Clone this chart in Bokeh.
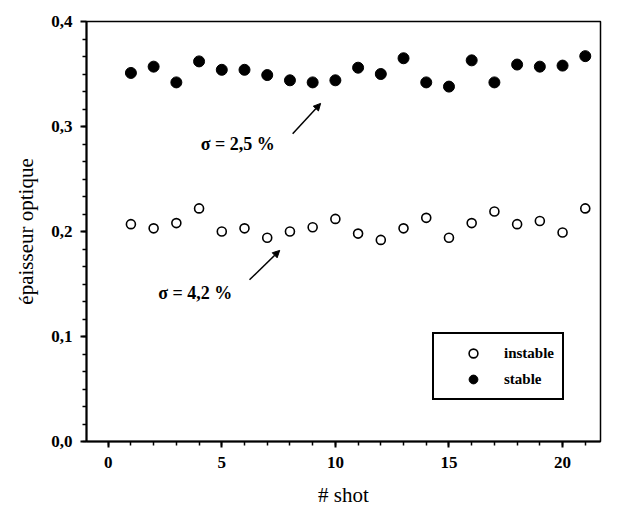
from bokeh.plotting import figure
from bokeh.models import (ColumnDataSource, Range1d, FixedTicker, Legend, LegendItem,
                          Label, Arrow, NormalHead)
from bokeh.embed import file_html
from bokeh.resources import INLINE

shots = list(range(1, 22))
stable = [0.351, 0.357, 0.342, 0.362, 0.354, 0.354, 0.349, 0.344, 0.342, 0.344,
          0.356, 0.350, 0.365, 0.342, 0.338, 0.363, 0.342, 0.359, 0.357, 0.358, 0.367]
instable = [0.207, 0.203, 0.208, 0.222, 0.200, 0.203, 0.194, 0.200, 0.204, 0.212,
            0.198, 0.192, 0.203, 0.213, 0.194, 0.208, 0.219, 0.207, 0.210, 0.199, 0.222]
y_ticks = [0.0, 0.1, 0.2, 0.3, 0.4]
y_tick_labels = ["0,0", "0,1", "0,2", "0,3", "0,4"]
x_ticks = [0, 5, 10, 15, 20]
series_names = ["instable", "stable"]
annotations = ["σ = 2,5 %", "σ = 4,2 %"]

FONT = "Liberation Serif"

p = figure(width=622, height=516, output_backend="svg", toolbar_location=None,
           x_range=Range1d(-0.955, 21.67), y_range=Range1d(0.0, 0.4),
           min_border_left=86, min_border_right=22, min_border_top=21, min_border_bottom=75)
p.grid.visible = False
p.outline_line_color = "black"
p.outline_line_width = 1.5
p.outline_line_alpha = 1
p.background_fill_color = "white"
p.border_fill_color = "white"

src = ColumnDataSource(dict(x=shots, stable=stable, instable=instable))
r_inst = p.scatter("x", "instable", source=src, size=9, marker="circle",
                   fill_color="white", line_color="black", line_width=1.6)
r_stab = p.scatter("x", "stable", source=src, size=11, marker="circle",
                   fill_color="black", line_color="black")

for ax in (p.xaxis[0], p.yaxis[0]):
    ax.axis_line_width = 2
    ax.axis_line_color = "black"
    ax.major_tick_line_width = 2
    ax.major_tick_line_color = "black"
    ax.minor_tick_line_width = 1.5
    ax.minor_tick_line_color = "black"
    ax.major_tick_out = 6
    ax.major_tick_in = 0
    ax.minor_tick_out = 4
    ax.minor_tick_in = 0
    ax.major_label_text_font = FONT
    ax.major_label_text_font_size = "17px"
    ax.major_label_text_font_style = "bold"
    ax.major_label_text_color = "black"
    ax.axis_label_text_font = FONT
    ax.axis_label_text_font_size = "21px"
    ax.axis_label_text_font_style = "normal"
    ax.axis_label_text_color = "black"

p.xaxis.ticker = FixedTicker(ticks=x_ticks, minor_ticks=list(range(0, 22)))
p.yaxis.ticker = FixedTicker(ticks=y_ticks,
                             minor_ticks=[i * 0.1 / 6 for i in range(0, 25)])
p.yaxis.major_label_overrides = {t: l for t, l in zip(y_ticks, y_tick_labels)}
p.xaxis.axis_label = "# shot"
p.yaxis.axis_label = "épaisseur optique"
p.xaxis.major_label_standoff = 9
p.yaxis.major_label_standoff = 8
p.xaxis.axis_label_standoff = 12
p.yaxis.axis_label_standoff = 10

p.add_layout(Label(x=4.07, y=0.283, text=annotations[0], text_font=FONT,
                   text_font_size="18px", text_font_style="bold",
                   text_color="black", text_baseline="middle"))
p.add_layout(Label(x=2.2, y=0.141, text=annotations[1], text_font=FONT,
                   text_font_size="18px", text_font_style="bold",
                   text_color="black", text_baseline="middle"))
p.add_layout(Arrow(x_start=8.12, y_start=0.293, x_end=9.35, y_end=0.322,
                   line_width=1.5, line_color="black",
                   end=NormalHead(size=7, fill_color="black", line_color="black")))
p.add_layout(Arrow(x_start=6.22, y_start=0.154, x_end=7.55, y_end=0.182,
                   line_width=1.5, line_color="black",
                   end=NormalHead(size=7, fill_color="black", line_color="black")))

legend = Legend(items=[LegendItem(label=series_names[0], renderers=[r_inst]),
                       LegendItem(label=series_names[1], renderers=[r_stab])],
                location=(346, 41))
legend.border_line_color = "black"
legend.border_line_width = 2
legend.border_line_alpha = 1
legend.label_text_font = FONT
legend.label_text_font_size = "15px"
legend.label_text_font_style = "bold"
legend.label_text_color = "black"
legend.glyph_width = 62
legend.label_standoff = 0
legend.padding = 8
legend.margin = 0
legend.spacing = 4
legend.label_height = 22
legend.glyph_height = 22
legend.background_fill_alpha = 1
p.add_layout(legend)

open("out.html", "w").write(file_html(p, INLINE))
